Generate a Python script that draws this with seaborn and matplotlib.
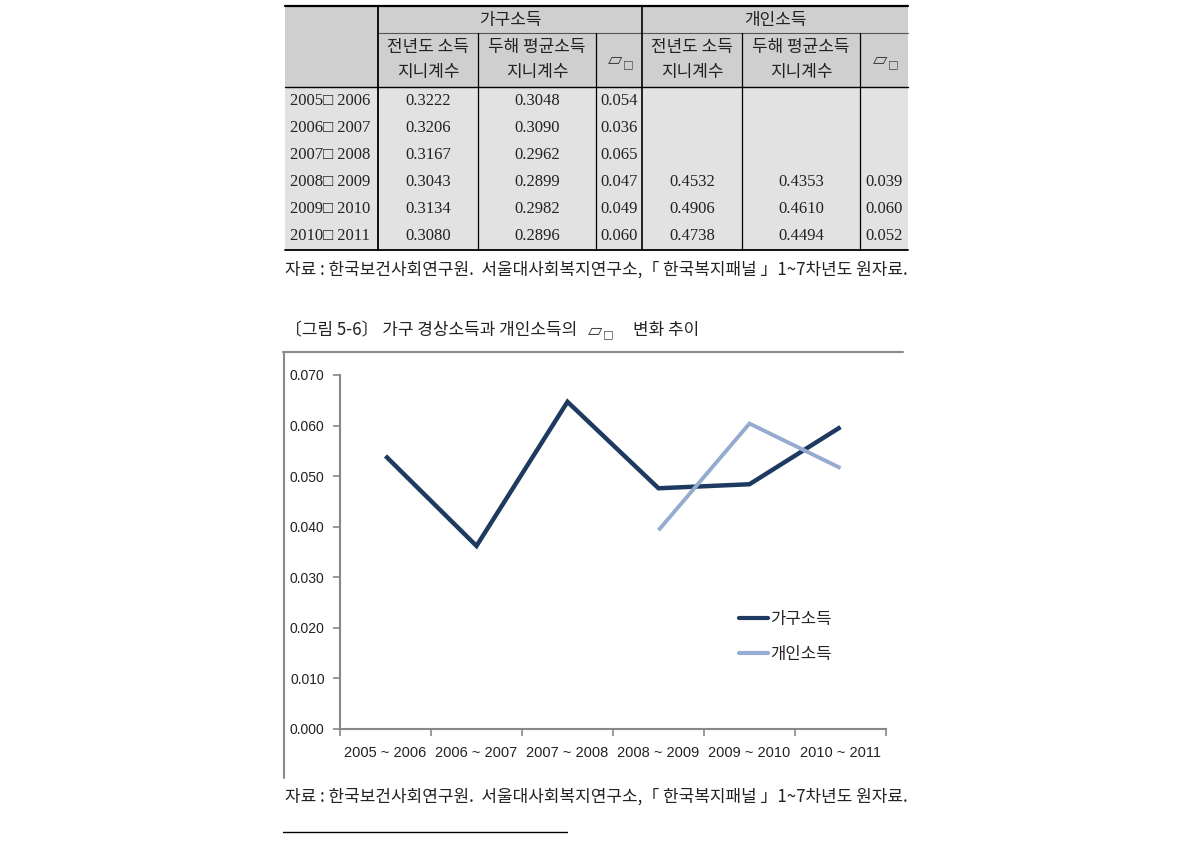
import numpy as np
import pandas as pd
import matplotlib
matplotlib.use("Agg")
import matplotlib.pyplot as plt
import seaborn as sns
from matplotlib.lines import Line2D
from matplotlib.patches import Rectangle
from matplotlib.ticker import FixedLocator, FormatStrFormatter

# ---------------- data ----------------
periods = ["2005 ~ 2006", "2006 ~ 2007", "2007 ~ 2008",
           "2008 ~ 2009", "2009 ~ 2010", "2010 ~ 2011"]
row_labels = ["2005□ 2006", "2006□ 2007", "2007□ 2008",
              "2008□ 2009", "2009□ 2010", "2010□ 2011"]
group_labels = ["가구소득", "개인소득"]
col_line1 = ["전년도 소득", "두해 평균소득"]
col_line2 = ["지니계수", "지니계수"]

hh_prev_gini = [0.3222, 0.3206, 0.3167, 0.3043, 0.3134, 0.3080]
hh_avg_gini = [0.3048, 0.3090, 0.2962, 0.2899, 0.2982, 0.2896]
hh_ratio = [0.054, 0.036, 0.065, 0.047, 0.049, 0.060]
ind_prev_gini = [None, None, None, 0.4532, 0.4906, 0.4738]
ind_avg_gini = [None, None, None, 0.4353, 0.4610, 0.4494]
ind_ratio = [None, None, None, 0.039, 0.060, 0.052]

# values as plotted in the figure
hh_series = [0.054, 0.0362, 0.0647, 0.0476, 0.0484, 0.0597]
ind_series = [np.nan, np.nan, np.nan, 0.0393, 0.0604, 0.0516]
series_names = ["가구소득", "개인소득"]

source_text = "자료 : 한국보건사회연구원.  서울대사회복지연구소,「 한국복지패널 」1~7차년도 원자료."
caption_a = "〔그림 5-6〕 가구 경상소득과 개인소득의"
caption_b = "변화 추이"
y_ticks = [0.000, 0.010, 0.020, 0.030, 0.040, 0.050, 0.060, 0.070]

# ---------------- figure ----------------
sns.set_theme(style="white")
plt.rcParams['font.family'] = ['Noto Sans CJK KR', 'DejaVu Sans']
W, H = 1190, 843
fig = plt.figure(figsize=(W / 100, H / 100), dpi=100)
fig.patch.set_facecolor("white")


def fx(x):
    return x / W


def fy(y):
    return 1 - y / H


KR = ['Noto Sans CJK KR', 'DejaVu Sans']
SERIF = ['Liberation Serif', 'DejaVu Sans']
KFS = 12.2

# ---------------- table ----------------
cols = [285, 378, 478, 596, 642, 742, 860, 908]
y_top, y_mid, y_head, y_bot = 6, 33, 87, 250
row_h = (y_bot - y_head) / 6
hdr_col = "#cfcfcf"
dat_col = "#e2e2e2"
fig.add_artist(Rectangle((fx(285), fy(y_head)), fx(908) - fx(285), fy(y_top) - fy(y_head),
                         transform=fig.transFigure, facecolor=hdr_col, edgecolor="none", zorder=0))
fig.add_artist(Rectangle((fx(285), fy(y_bot)), fx(908) - fx(285), fy(y_head) - fy(y_bot),
                         transform=fig.transFigure, facecolor=dat_col, edgecolor="none", zorder=0))


def hline(x0, x1, y, lw=1.0, color="black"):
    fig.add_artist(Line2D([fx(x0), fx(x1)], [fy(y), fy(y)], transform=fig.transFigure,
                          color=color, lw=lw, zorder=2))


def vline(x, y0, y1, lw=1.0, color="black"):
    fig.add_artist(Line2D([fx(x), fx(x)], [fy(y0), fy(y1)], transform=fig.transFigure,
                          color=color, lw=lw, zorder=2))


hline(285, 908, y_top, lw=1.6)
hline(378, 908, y_mid, lw=0.8, color="#555555")
hline(285, 908, y_head, lw=1.0)
hline(285, 908, y_bot, lw=1.3)
vline(378, y_top, y_bot, lw=1.3)
vline(642, y_top, y_bot, lw=1.2)
for x in [478, 596, 742, 860]:
    vline(x, y_mid, y_bot, lw=0.9)

# group headers
fig.text(fx((378 + 642) / 2), fy(19.5), group_labels[0], ha="center", va="center",
         fontsize=KFS, family=KR, color="#222222")
fig.text(fx((642 + 908) / 2), fy(19.5), group_labels[1], ha="center", va="center",
         fontsize=KFS, family=KR, color="#222222")


def symbol(xc, yc, fs=13.5):
    fig.text(fx(xc - 4), fy(yc), "▱", ha="center", va="center", fontsize=fs,
             family=['DejaVu Sans'], color="#444444", style="normal")
    fig.text(fx(xc + 9), fy(yc + 4), "□", ha="center", va="center", fontsize=fs * 0.6,
             family=['DejaVu Sans'], color="#444444")


for g in range(2):
    base = 1 + g * 3
    for k in range(2):
        c0, c1 = cols[base + k], cols[base + k + 1]
        xc = (c0 + c1) / 2
        fig.text(fx(xc), fy(47), col_line1[k], ha="center", va="center",
                 fontsize=KFS, family=KR, color="#222222")
        fig.text(fx(xc), fy(72), col_line2[k], ha="center", va="center",
                 fontsize=KFS, family=KR, color="#222222")
    c0, c1 = cols[base + 2], cols[base + 3]
    symbol((c0 + c1) / 2, 60)

table_cols = [hh_prev_gini, hh_avg_gini, hh_ratio, ind_prev_gini, ind_avg_gini, ind_ratio]
fmts = ["{:.4f}", "{:.4f}", "{:.3f}", "{:.4f}", "{:.4f}", "{:.3f}"]
for i in range(6):
    yc = y_head + row_h * (i + 0.5)
    fig.text(fx(330), fy(yc), row_labels[i], ha="center", va="center",
             fontsize=12, family=SERIF, color="#222222")
    for j, (vals, fm) in enumerate(zip(table_cols, fmts)):
        v = vals[i]
        if v is None:
            continue
        xc = (cols[j + 1] + cols[j + 2]) / 2
        fig.text(fx(xc), fy(yc), fm.format(v), ha="center", va="center",
                 fontsize=12, family=SERIF, color="#222222")

# source lines
fig.text(fx(285), fy(270), source_text, ha="left", va="center", fontsize=KFS,
         family=KR, color="#222222")
fig.text(fx(285), fy(797), source_text, ha="left", va="center", fontsize=KFS,
         family=KR, color="#222222")

# caption
fig.canvas.draw()
rend = fig.canvas.get_renderer()
t1 = fig.text(fx(285), fy(330), caption_a, ha="left", va="center", fontsize=KFS,
              family=KR, color="#222222")
bb = t1.get_window_extent(renderer=rend)
xs = bb.x1 + 14
symbol(xs + 8, 330)
fig.text(fx(xs + 42), fy(330), caption_b, ha="left", va="center", fontsize=KFS,
         family=KR, color="#222222")

# footnote rule
hline(283, 567, 832, lw=1.0)

# chart frame
hline(283, 903, 352, lw=1.5, color="#8a8a8a")
vline(284, 352, 778, lw=1.5, color="#8a8a8a")

# ---------------- chart ----------------
ax = fig.add_axes([fx(340), fy(729), (886 - 340) / W, (729 - 375) / H])
ax.set_facecolor("none")
df = pd.DataFrame({
    "period": periods * 2,
    "value": hh_series + ind_series,
    "series": [series_names[0]] * len(periods) + [series_names[1]] * len(periods),
})
navy = "#1f3a60"
light = "#95abd0"
sns.lineplot(data=df, x="period", y="value", hue="series", palette=[navy, light],
             ax=ax, linewidth=3.0, sort=False)
for ln, lw in zip(ax.get_lines()[:2], [3.2, 2.8]):
    ln.set_linewidth(lw)
    ln.set_solid_capstyle("butt")
    ln.set_solid_joinstyle("miter")

ax.set_xlim(-0.5, len(periods) - 0.5)
ax.set_ylim(0, 0.07)
ax.set_xlabel("")
ax.set_ylabel("")
ax.yaxis.set_major_locator(FixedLocator(y_ticks))
ax.yaxis.set_major_formatter(FormatStrFormatter("%.3f"))
ax.set_xticks(range(len(periods)))
ax.set_xticklabels(periods, family=['Liberation Sans', 'DejaVu Sans'], fontsize=10.5,
                   color="#222222")
ax.xaxis.set_minor_locator(FixedLocator(np.arange(-0.5, len(periods), 1.0)))
ax.tick_params(axis="x", which="major", length=0, pad=12)
ax.tick_params(axis="x", which="minor", length=5, width=1.2, color="#888888",
               direction="out", bottom=True)
ax.tick_params(axis="y", which="major", length=5, width=1.2, color="#888888",
               direction="out", left=True, pad=6, labelsize=10, labelcolor="#222222")
for lab in ax.get_yticklabels():
    lab.set_family(['Liberation Sans', 'DejaVu Sans'])
for s in ["top", "right"]:
    ax.spines[s].set_visible(False)
for s in ["left", "bottom"]:
    ax.spines[s].set_color("#888888")
    ax.spines[s].set_linewidth(1.5)

handles, labels = ax.get_legend_handles_labels()
if ax.get_legend() is not None:
    ax.get_legend().remove()
fig.legend(handles, labels, loc="upper left", bbox_to_anchor=(fx(724), fy(596)),
           frameon=False, handlelength=1.75, handletextpad=0.1, labelspacing=1.05,
           prop={"family": KR, "size": 12})

fig.savefig("out.png", dpi=100, facecolor="white")
